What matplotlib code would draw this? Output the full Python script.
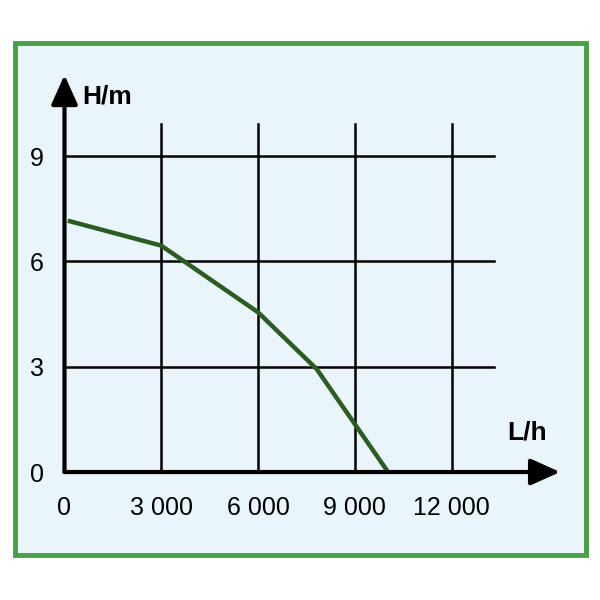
import matplotlib.pyplot as plt
from matplotlib.patches import Rectangle

# pump curve: flow (L/h) vs head (m)
flow = [100, 3000, 6000, 7820, 10030]
head = [7.16, 6.45, 4.55, 2.93, 0.0]

x_ticks = [0, 3000, 6000, 9000, 12000]
x_labels = ['0', '3 000', '6 000', '9 000', '12 000']
y_ticks = [0, 3, 6, 9]
y_labels = ['0', '3', '6', '9']

font = ['Liberation Sans', 'DejaVu Sans']

fig = plt.figure(figsize=(6, 6), dpi=100)
fig.patch.set_facecolor('white')

# green frame with light blue fill
frame = Rectangle((0.025, 0.075), 0.952, 0.853, transform=fig.transFigure,
                  facecolor='#eaf4fb', edgecolor='#47a043', linewidth=3.5, zorder=0)
fig.patches.append(frame)

ax = fig.add_axes([0.1075, 0.2133, 0.826, 0.6617])
ax.set_zorder(2)
ax.set_facecolor('none')
ax.set_xlim(0, 15364)
ax.set_ylim(0, 11.31)
for s in ax.spines.values():
    s.set_visible(False)

# grid
for xv in x_ticks[1:]:
    ax.plot([xv, xv], [0, 9.9], color='black', lw=1.8, zorder=1)
for yv in y_ticks[1:]:
    ax.plot([0, 13300], [yv, yv], color='black', lw=1.8, zorder=1)

# axes with arrows
ax.annotate('', xy=(15364, 0), xytext=(0, 0),
            arrowprops=dict(arrowstyle='-|>,head_length=1.0,head_width=0.45',
                            color='black', lw=3, mutation_scale=18, shrinkA=0, shrinkB=0),
            annotation_clip=False, zorder=3)
ax.annotate('', xy=(0, 11.31), xytext=(0, 0),
            arrowprops=dict(arrowstyle='-|>,head_length=1.0,head_width=0.45',
                            color='black', lw=3, mutation_scale=18, shrinkA=0, shrinkB=0),
            annotation_clip=False, zorder=3)

ax.plot(flow, head, color='#2b5c20', lw=3.2, zorder=2, solid_capstyle='butt')

ax.set_xticks(x_ticks, x_labels)
ax.set_yticks(y_ticks, y_labels)
ax.tick_params(length=0, labelsize=18)
ax.tick_params(axis='x', pad=17)
ax.tick_params(axis='y', pad=15)
for lab in ax.get_xticklabels() + ax.get_yticklabels():
    lab.set_family(font)

fig.text(107 / 600, 1 - 97 / 600, 'H/m', fontsize=19, fontweight='bold',
         family=font, ha='center', va='center')
fig.text(527 / 600, 1 - 433 / 600, 'L/h', fontsize=19, fontweight='bold',
         family=font, ha='center', va='center')

fig.savefig('out.png', dpi=100)
